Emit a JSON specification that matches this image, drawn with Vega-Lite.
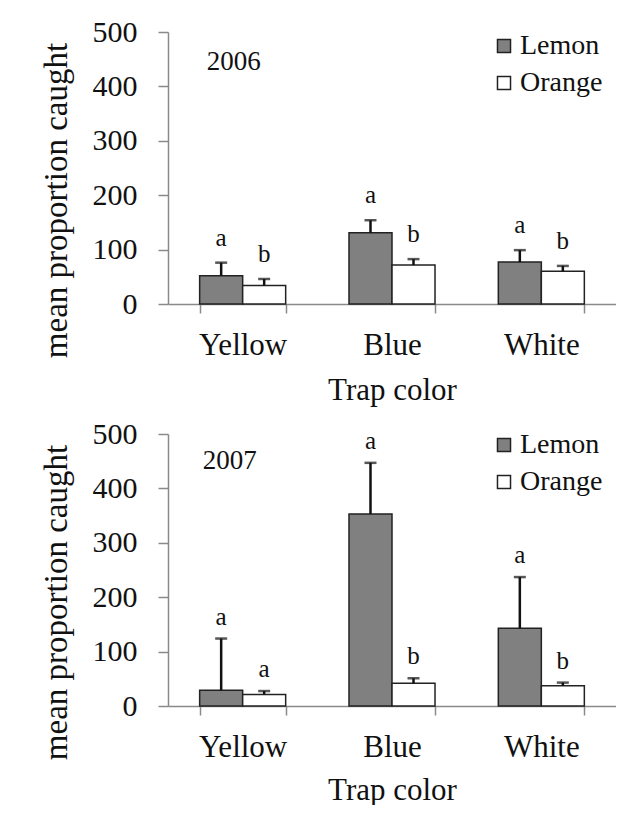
{
  "$schema": "https://vega.github.io/schema/vega-lite/v6.json",
  "padding": {"left": 40, "top": 17, "right": 0, "bottom": 0},
  "spacing": 14,
  "config": {
    "font": "Liberation Serif, Times New Roman, serif",
    "view": {"stroke": null},
    "axis": {
      "labelFont": "Liberation Serif, Times New Roman, serif",
      "titleFont": "Liberation Serif, Times New Roman, serif",
      "labelColor": "#111",
      "titleColor": "#111",
      "titleFontWeight": "normal",
      "domainColor": "#8a8a8a",
      "tickColor": "#8a8a8a",
      "domainWidth": 1.5,
      "tickWidth": 1.5,
      "grid": false
    },
    "legend": {"labelFont": "Liberation Serif, Times New Roman, serif"},
    "text": {"font": "Liberation Serif, Times New Roman, serif"}
  },
  "datasets": {
    "bars": [
      {"year": "2006", "trap": "Yellow", "fruit": "Lemon", "mean": 52, "upper": 76, "letter": "a"},
      {"year": "2006", "trap": "Yellow", "fruit": "Orange", "mean": 34, "upper": 46, "letter": "b"},
      {"year": "2006", "trap": "Blue", "fruit": "Lemon", "mean": 131, "upper": 154, "letter": "a"},
      {"year": "2006", "trap": "Blue", "fruit": "Orange", "mean": 71.5, "upper": 82.5, "letter": "b"},
      {"year": "2006", "trap": "White", "fruit": "Lemon", "mean": 77, "upper": 99, "letter": "a"},
      {"year": "2006", "trap": "White", "fruit": "Orange", "mean": 60, "upper": 70, "letter": "b"},
      {"year": "2007", "trap": "Yellow", "fruit": "Lemon", "mean": 29, "upper": 124, "letter": "a"},
      {"year": "2007", "trap": "Yellow", "fruit": "Orange", "mean": 21, "upper": 27.5, "letter": "a"},
      {"year": "2007", "trap": "Blue", "fruit": "Lemon", "mean": 353, "upper": 447, "letter": "a"},
      {"year": "2007", "trap": "Blue", "fruit": "Orange", "mean": 42, "upper": 51, "letter": "b"},
      {"year": "2007", "trap": "White", "fruit": "Lemon", "mean": 143, "upper": 237, "letter": "a"},
      {"year": "2007", "trap": "White", "fruit": "Orange", "mean": 37, "upper": 43, "letter": "b"}
    ],
    "years": [
      {"year": "2006", "trap": "Yellow", "pos": 445},
      {"year": "2007", "trap": "Yellow", "pos": 450}
    ]
  },
  "resolve": {"scale": {"fill": "independent"}, "legend": {"fill": "independent"}},
  "vconcat": [
    {
      "width": 448,
      "height": 272,
      "data": {"name": "bars"},
      "transform": [{"filter": "datum.year === '2006'"}],
      "encoding": {
        "x": {
          "field": "trap", "type": "nominal", "sort": ["Yellow", "Blue", "White"],
          "scale": {"paddingInner": 0.424, "paddingOuter": 0.212},
          "axis": {"title": "Trap color", "labelAngle": 0, "labelFontSize": 31, "titleFontSize": 31, "tickBand": "extent", "tickSize": 9, "labelPadding": 17, "titlePadding": 15}
        },
        "xOffset": {"field": "fruit", "type": "nominal", "sort": ["Lemon", "Orange"], "scale": {"paddingInner": 0, "paddingOuter": 0}}
      },
      "layer": [
        {
          "mark": {"type": "bar", "stroke": "#222", "strokeWidth": 1.5},
          "encoding": {
            "y": {"field": "mean", "type": "quantitative", "scale": {"domain": [0, 500], "nice": false},
              "axis": {"title": "mean proportion caught", "values": [0, 100, 200, 300, 400, 500], "labelFontSize": 30, "titleFontSize": 33, "titleY": 168, "tickSize": 10, "labelPadding": 21, "titlePadding": 19}},
            "fill": {"field": "fruit", "type": "nominal", "sort": ["Lemon", "Orange"],
              "scale": {"domain": ["Lemon", "Orange"], "range": ["#808080", "#ffffff"]},
              "legend": {"title": null, "orient": "none", "legendX": 322, "legendY": 0, "symbolType": "square", "symbolSize": 170, "symbolStrokeColor": "#222", "symbolStrokeWidth": 1.5, "labelFontSize": 28, "labelColor": "#111", "labelOffset": 2, "rowPadding": 9}}
          }
        },
        {
          "mark": {"type": "rule", "color": "#111", "strokeWidth": 2.5},
          "encoding": {"y": {"field": "mean", "type": "quantitative"}, "y2": {"field": "upper"}}
        },
        {
          "mark": {"type": "tick", "color": "#111", "thickness": 2.5, "size": 12},
          "encoding": {"y": {"field": "upper", "type": "quantitative"}}
        },
        {
          "mark": {"type": "text", "fontSize": 25, "dy": -25, "baseline": "middle", "color": "#111"},
          "encoding": {"y": {"field": "upper", "type": "quantitative"}, "text": {"field": "letter"}}
        },
        {
          "data": {"name": "years"},
          "transform": [{"filter": "datum.year === '2006'"}],
          "mark": {"type": "text", "fontSize": 27, "baseline": "middle", "color": "#111"},
          "encoding": {"x": {"field": "trap", "type": "nominal"}, "xOffset": {"value": 34}, "y": {"field": "pos", "type": "quantitative"}, "text": {"field": "year"}}
        }
      ]
    },
    {
      "width": 448,
      "height": 272,
      "data": {"name": "bars"},
      "transform": [{"filter": "datum.year === '2007'"}],
      "encoding": {
        "x": {
          "field": "trap", "type": "nominal", "sort": ["Yellow", "Blue", "White"],
          "scale": {"paddingInner": 0.424, "paddingOuter": 0.212},
          "axis": {"title": "Trap color", "labelAngle": 0, "labelFontSize": 31, "titleFontSize": 31, "tickBand": "extent", "tickSize": 9, "labelPadding": 17, "titlePadding": 13}
        },
        "xOffset": {"field": "fruit", "type": "nominal", "sort": ["Lemon", "Orange"], "scale": {"paddingInner": 0, "paddingOuter": 0}}
      },
      "layer": [
        {
          "mark": {"type": "bar", "stroke": "#222", "strokeWidth": 1.5},
          "encoding": {
            "y": {"field": "mean", "type": "quantitative", "scale": {"domain": [0, 500], "nice": false},
              "axis": {"title": "mean proportion caught", "values": [0, 100, 200, 300, 400, 500], "labelFontSize": 30, "titleFontSize": 33, "titleY": 168, "tickSize": 10, "labelPadding": 21, "titlePadding": 19}},
            "fill": {"field": "fruit", "type": "nominal", "sort": ["Lemon", "Orange"],
              "scale": {"domain": ["Lemon", "Orange"], "range": ["#808080", "#ffffff"]},
              "legend": {"title": null, "orient": "none", "legendX": 322, "legendY": -3, "symbolType": "square", "symbolSize": 170, "symbolStrokeColor": "#222", "symbolStrokeWidth": 1.5, "labelFontSize": 28, "labelColor": "#111", "labelOffset": 2, "rowPadding": 9}}
          }
        },
        {
          "mark": {"type": "rule", "color": "#111", "strokeWidth": 2.5},
          "encoding": {"y": {"field": "mean", "type": "quantitative"}, "y2": {"field": "upper"}}
        },
        {
          "mark": {"type": "tick", "color": "#111", "thickness": 2.5, "size": 12},
          "encoding": {"y": {"field": "upper", "type": "quantitative"}}
        },
        {
          "mark": {"type": "text", "fontSize": 25, "dy": -22, "baseline": "middle", "color": "#111"},
          "encoding": {"y": {"field": "upper", "type": "quantitative"}, "text": {"field": "letter"}}
        },
        {
          "data": {"name": "years"},
          "transform": [{"filter": "datum.year === '2007'"}],
          "mark": {"type": "text", "fontSize": 27, "baseline": "middle", "color": "#111"},
          "encoding": {"x": {"field": "trap", "type": "nominal"}, "xOffset": {"value": 30}, "y": {"field": "pos", "type": "quantitative"}, "text": {"field": "year"}}
        }
      ]
    }
  ]
}
